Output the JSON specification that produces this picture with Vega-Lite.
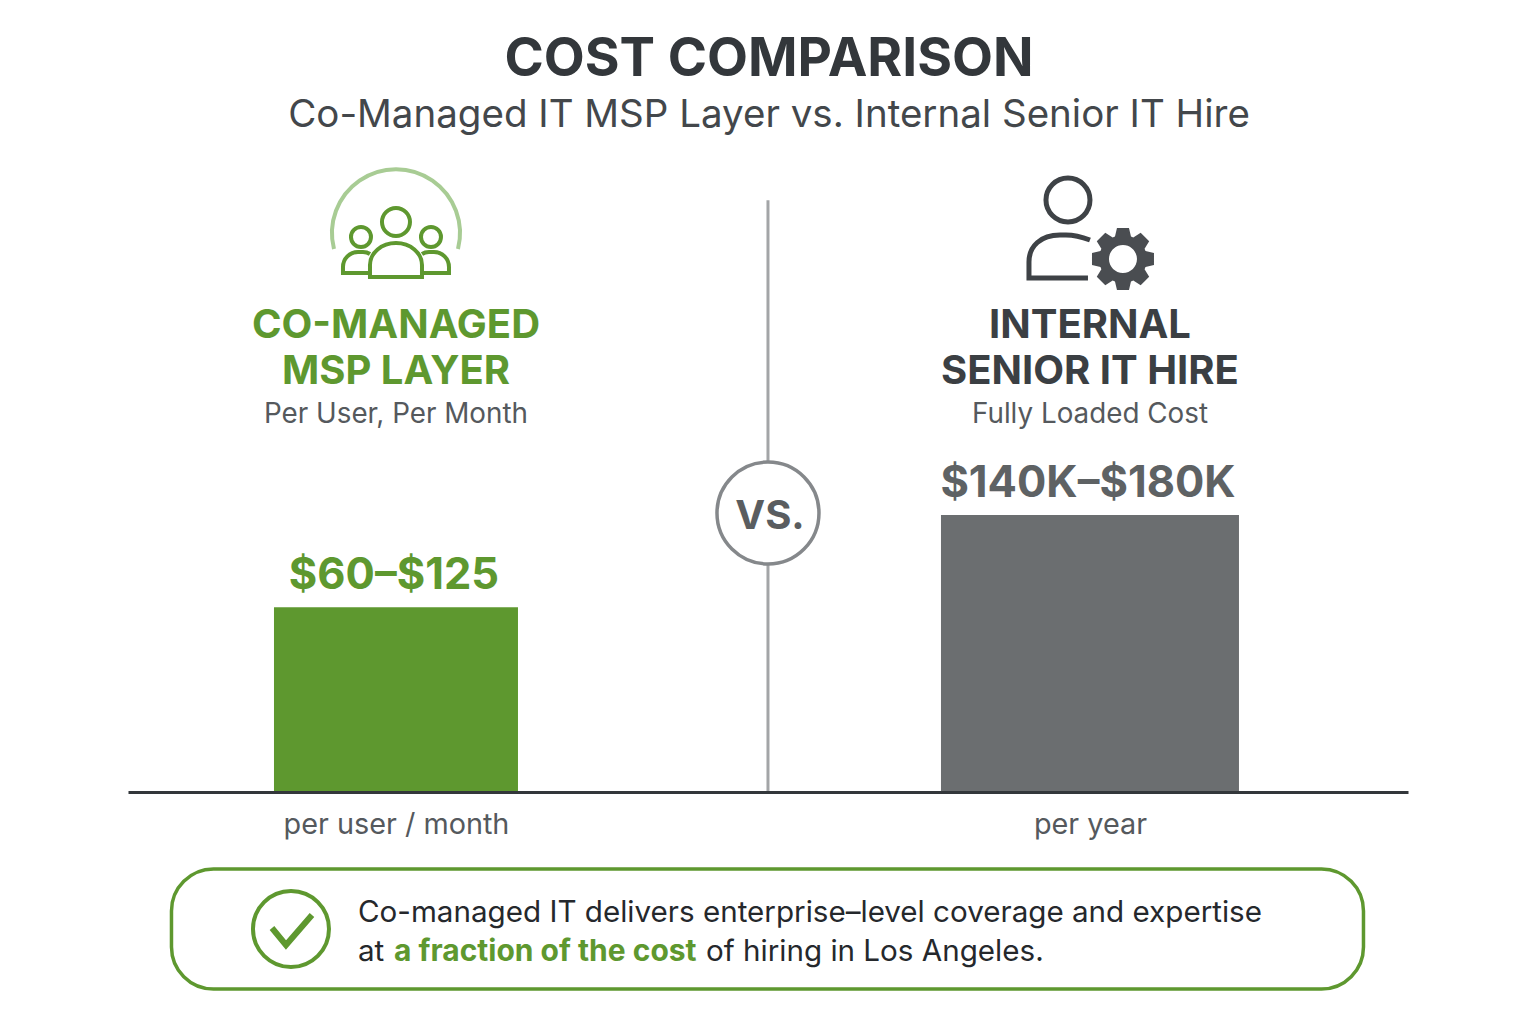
{
"$schema":"https://vega.github.io/schema/vega-lite/v6.json",
"width":1536,"height":1024,"padding":0,"autosize":{"type":"none"},"background":"#ffffff",
"title":{"text":"COST COMPARISON","subtitle":"Co-Managed IT MSP Layer vs. Internal Senior IT Hire","anchor":"middle","frame":"group","orient":"top","offset":-135,"dx":1,"font":"Inter","fontSize":53.2,"fontWeight":"bold","color":"#33373B","subtitleFont":"Inter","subtitleFontSize":38.5,"subtitleFontWeight":"normal","subtitleColor":"#43474B","subtitlePadding":9},
"config":{"view":{"stroke":null},"text":{"font":"Inter","baseline":"alphabetic"}},
"data":{"values":[
{"series":"Co-Managed MSP Layer","heading":"CO-MANAGED\nMSP LAYER","basis":"Per User, Per Month","price":"$60–$125","relativeHeight":2},
{"series":"Internal Senior IT Hire","heading":"INTERNAL\nSENIOR IT HIRE","basis":"Fully Loaded Cost","price":"$140K–$180K","relativeHeight":3},
{"series":"VS.","versus":"VS.","calloutLine1":"Co-managed IT delivers enterprise–level coverage and expertise","calloutStart":"at","calloutEmphasis":"a fraction of the cost","calloutEnd":"of hiring in Los Angeles."}
]},
"encoding":{
"x":{"field":"series","type":"nominal","sort":null,"title":null,"scale":{"type":"point","domain":["Co-Managed MSP Layer","VS.","Internal Senior IT Hire"],"range":[128,1408],"padding":0.8444,"align":0.4573},
"axis":{"offset":-232,"domainColor":"#33373B","domainWidth":3,"ticks":false,"grid":false,"labelAngle":0,"labelFont":"Inter","labelFontSize":28.8,"labelColor":"#55595D","labelPadding":41,"labelBaseline":"alphabetic","labelLimit":400,"zindex":1,"labelExpr":"datum.value == 'VS.' ? '' : (datum.value == 'Co-Managed MSP Layer' ? 'per user / month' : 'per year')"}}
},
"layer":[
{"transform":[{"filter":"datum.series == 'VS.'"}],"mark":{"type":"rule","xOffset":25,"color":"#A3A5A7","strokeWidth":3},"encoding":{"y":{"datum":0,"title":null,"axis":null,"scale":{"domain":[0,3],"range":[792,515]}},"y2":{"datum":6.41}}},
{"transform":[{"filter":"datum.series != 'VS.'"}],"mark":{"type":"bar"},"encoding":{
"y":{"field":"relativeHeight","type":"quantitative","title":null,"axis":null,"scale":{"domain":[0,3],"range":[792,515]}},
"size":{"field":"series","type":"nominal","legend":null,"scale":{"domain":["Co-Managed MSP Layer","Internal Senior IT Hire"],"range":[244,298]}},
"color":{"field":"series","type":"nominal","legend":null,"scale":{"domain":["Co-Managed MSP Layer","Internal Senior IT Hire"],"range":["#5E982F","#6B6E70"]}}}},
{"transform":[{"filter":"datum.series == 'VS.'"}],"mark":{"type":"point","shape":"circle","size":10404,"filled":true,"fill":"#ffffff","stroke":"#85888B","strokeWidth":3.5,"opacity":1,"xOffset":25,"yOffset":-279},"encoding":{"y":{"datum":0}}},
{"transform":[{"filter":"datum.series == 'VS.'"}],"mark":{"type":"text","fontSize":40,"fontWeight":"bold","color":"#5A5D60","xOffset":27,"yOffset":-263},"encoding":{"y":{"datum":0},"text":{"field":"versus"}}},
{"transform":[{"filter":"datum.series != 'VS.'"}],"mark":{"type":"text","fontSize":40,"fontWeight":"bold","lineBreak":"\n","lineHeight":46,"yOffset":-454},"encoding":{"y":{"datum":0},"text":{"field":"heading"},"color":{"condition":{"test":"datum.series == 'Co-Managed MSP Layer'","value":"#5E982F"},"value":"#3B3F43"}}},
{"transform":[{"filter":"datum.series != 'VS.'"}],"mark":{"type":"text","fontSize":27.8,"color":"#55595D","yOffset":-369},"encoding":{"y":{"datum":0},"text":{"field":"basis"}}},
{"transform":[{"filter":"datum.series != 'VS.'"}],"mark":{"type":"text","fontSize":43.5,"fontWeight":"bold","dy":-18,"xOffset":-2},"encoding":{"y":{"field":"relativeHeight","type":"quantitative"},"text":{"field":"price"},"color":{"condition":{"test":"datum.series == 'Co-Managed MSP Layer'","value":"#5E982F"},"value":"#5E6264"}}},
{"transform":[{"filter":"datum.series == 'Co-Managed MSP Layer'"}],"mark":{"type":"point","size":4,"filled":false,"opacity":1,"stroke":"#A8CC94","strokeWidth":4,"yOffset":-559,"shape":"M-62,16 A64,64 0 1 1 62,16"},"encoding":{"y":{"datum":0}}},
{"transform":[{"filter":"datum.series == 'Co-Managed MSP Layer'"}],"mark":{"type":"point","size":4,"filled":false,"opacity":1,"stroke":"#5E982F","strokeWidth":4,"yOffset":-560,"shape":"M14,-10 A14,14 0 1 1 -14,-10 A14,14 0 1 1 14,-10 Z M-26,45 V33 A26,22 0 0 1 26,33 V45 Z M-25,5 A10,10 0 1 1 -45,5 A10,10 0 1 1 -25,5 Z M45,5 A10,10 0 1 1 25,5 A10,10 0 1 1 45,5 Z M-26,41 H-53 V35 A15,15 0 0 1 -38,20 H-33 Q-29,20 -26,22 M26,41 H53 V35 A15,15 0 0 0 38,20 H33 Q29,20 26,22"},"encoding":{"y":{"datum":0}}},
{"transform":[{"filter":"datum.series == 'Internal Senior IT Hire'"}],"mark":{"type":"point","size":4,"filled":false,"opacity":1,"stroke":"#3E4246","strokeWidth":5,"yOffset":-560,"shape":"M0,-32 A22,22 0 1 1 -44,-32 A22,22 0 1 1 0,-32 Z M0,8 C-8,5 -15,3 -24,3 H-30 C-49,3 -61,14 -61,30 V46 H-2"},"encoding":{"y":{"datum":0}}},
{"transform":[{"filter":"datum.series == 'Internal Senior IT Hire'"}],"mark":{"type":"point","size":4,"filled":true,"opacity":1,"fill":"#4A4D51","stroke":null,"xOffset":33,"yOffset":-533,"shape":"M22.5,-8 L31,-6 L31,6 L22.5,8 L21.6,10.3 L26.2,17.7 L17.7,26.2 L10.3,21.6 L8,22.5 L6,31 L-6,31 L-8,22.5 L-10.3,21.6 L-17.7,26.2 L-26.2,17.7 L-21.6,10.3 L-22.5,8 L-31,6 L-31,-6 L-22.5,-8 L-21.6,-10.3 L-26.2,-17.7 L-17.7,-26.2 L-10.3,-21.6 L-8,-22.5 L-6,-31 L6,-31 L8,-22.5 L10.3,-21.6 L17.7,-26.2 L26.2,-17.7 L21.6,-10.3 Z M14,0 A14,14 0 1 0 -14,0 A14,14 0 1 0 14,0 Z"},"encoding":{"y":{"datum":0}}},
{"transform":[{"filter":"datum.series == 'VS.'"}],"mark":{"type":"point","size":4,"filled":false,"opacity":1,"stroke":"#5E982F","strokeWidth":3.5,"xOffset":24.5,"yOffset":137,"shape":"M-554,-60 H554 A42,42 0 0 1 596,-18 V18 A42,42 0 0 1 554,60 H-554 A42,42 0 0 1 -596,18 V-18 A42,42 0 0 1 -554,-60 Z"},"encoding":{"y":{"datum":0}}},
{"transform":[{"filter":"datum.series == 'VS.'"}],"mark":{"type":"point","size":4,"filled":false,"opacity":1,"stroke":"#5E982F","strokeWidth":4,"xOffset":-452,"yOffset":137,"shape":"M38,0 A38,38 0 1 1 -38,0 A38,38 0 1 1 38,0 Z"},"encoding":{"y":{"datum":0}}},
{"transform":[{"filter":"datum.series == 'VS.'"}],"mark":{"type":"point","size":4,"filled":false,"opacity":1,"stroke":"#5E982F","strokeWidth":6,"xOffset":-452,"yOffset":137,"shape":"M-19,-1 L-5,16 L21,-14"},"encoding":{"y":{"datum":0}}},
{"transform":[{"filter":"datum.series == 'VS.'"}],"mark":{"type":"text","align":"left","fontSize":29.6,"color":"#25282C","xOffset":-385,"yOffset":130},"encoding":{"y":{"datum":0},"text":{"field":"calloutLine1"}}},
{"transform":[{"filter":"datum.series == 'VS.'"}],"mark":{"type":"text","align":"left","fontSize":29.6,"color":"#25282C","xOffset":-385,"yOffset":169},"encoding":{"y":{"datum":0},"text":{"field":"calloutStart"}}},
{"transform":[{"filter":"datum.series == 'VS.'"}],"mark":{"type":"text","align":"left","fontSize":30,"fontWeight":"bold","color":"#5E982F","xOffset":-349,"yOffset":169},"encoding":{"y":{"datum":0},"text":{"field":"calloutEmphasis"}}},
{"transform":[{"filter":"datum.series == 'VS.'"}],"mark":{"type":"text","align":"left","fontSize":29.6,"color":"#25282C","xOffset":-37,"yOffset":169},"encoding":{"y":{"datum":0},"text":{"field":"calloutEnd"}}}
]
}
